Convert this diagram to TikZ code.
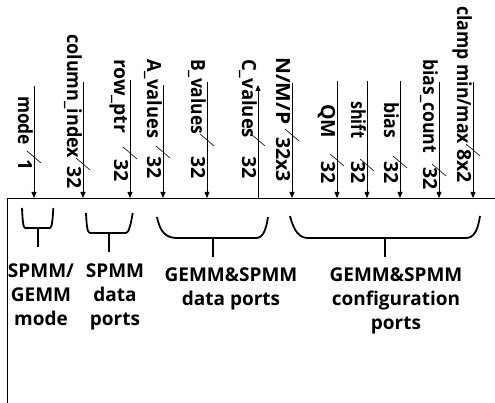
\documentclass[tikz,border=0pt]{standalone}
\usepackage{fontspec}
\setmainfont{Open Sans}
\usetikzlibrary{arrows.meta}
\newlength\labw
\newcommand\fitlab[2]{\settowidth\labw{#2}\pgfmathsetmacro\labfac{#1/\labw}\scalebox{\labfac}[1]{#2}}
\begin{document}
\begin{tikzpicture}[x=1pt,y=-1pt,
  port/.style={draw, line width=0.8pt, -{Triangle[length=6pt,width=5pt]}},
  tickmark/.style={draw, line width=0.6pt},
  lab/.style={rotate=-90, anchor=base west, inner sep=0pt, font=\fontsize{19.5}{22}\selectfont\bfseries},
  brk/.style={draw, line width=1.8pt},
  grp/.style={align=center, anchor=north, inner sep=0pt, font=\fontsize{19}{24}\selectfont\bfseries}]
\useasboundingbox (0,0) rectangle (495,403);
% block outline
\coordinate (bl) at (7,403);
\coordinate (tl) at (7,198);
\coordinate (tr) at (495,198);
\draw[line width=0.8pt] (bl) -- (tl) -- (tr);
% input ports
\foreach \n/\x/\t/\lab/\len/\ly/\num/\ny/\ty in {
  mode/34/86/mode/49/96/1/159/157,
  col/83/82/column\_index/124/34/32/166/164,
  row/130/80/row\_ptr/74/59/32/159/153,
  av/163/85/A\_values/79/59/32/156/152,
  bv/207/82/B\_values/75/59/32/156/140,
  nmp/292/83/{N/M/P}/67/57/32x3/137/135,
  qm/337/81/QM/34/104/32/161/160,
  sh/367/81/shift/37/101/32/161/165,
  bi/400/81/bias/36/102/32/161/162,
  bc/439/82/bias\_count/94/59/32/167/170,
  cl/473/82/{clamp min/max}/138/6/8x2/149/150}{
  \coordinate (\n-s) at (\x,\t);
  \coordinate (\n-e) at (\x,198);
  \coordinate (\n-t) at (\x,\ty);
  \draw[port] (\n-s) -- (\n-e);
  \draw[tickmark] ([shift={(-7,-6)}]\n-t) -- ([shift={(7,6)}]\n-t);
  \node[lab] (\n-l) at (\x-16,\ly) {\fitlab{\len}{\lab}};
  \node[lab] (\n-v) at (\x-16,\ny) {\num};
}
% output port C_values
\coordinate (cv-s) at (258,85);
\coordinate (cv-e) at (258,198);
\coordinate (cv-t) at (258,140);
\draw[port] (cv-e) -- (cv-s);
\draw[tickmark] ([shift={(-7,-6)}]cv-t) -- ([shift={(7,6)}]cv-t);
\node[lab] (cv-l) at (242,59) {\fitlab{79}{C\_values}};
\node[lab] (cv-v) at (242,156) {32};
% brackets
\draw[brk] (22,208) .. controls (22.5,218) and (23,228) .. (25,228) -- (50,228) .. controls (52,228) and (52.8,218) .. (53.3,208);
\draw[brk] (38,228) -- (38,247);
\draw[brk] (86,213) .. controls (86.5,223) and (87,233) .. (90,233) -- (126,233) .. controls (129,233) and (131,223) .. (132.7,213);
\draw[brk] (109,233) -- (109,252);
\draw[brk] (157,217) .. controls (160,232) and (166,238) .. (177,238) -- (256,238) .. controls (263,238) and (266,230) .. (268,217);
\draw[brk] (213,238) -- (213,257);
\draw[brk] (290,216) .. controls (294,232) and (300,238) .. (308,238) -- (466,238) .. controls (474,238) and (478,230) .. (480,216);
\draw[brk] (385,238) -- (385,257);
% group labels
\node[grp] (g1) at (41,264) {SPMM/\\GEMM\\mode};
\node[grp] (g2) at (115,264) {SPMM\\data\\ports};
\node[grp] (g3) at (231,268) {GEMM\&SPMM\\data ports};
\node[grp] (g4) at (396,268) {GEMM\&SPMM\\configuration\\ports};
\end{tikzpicture}
\end{document}
